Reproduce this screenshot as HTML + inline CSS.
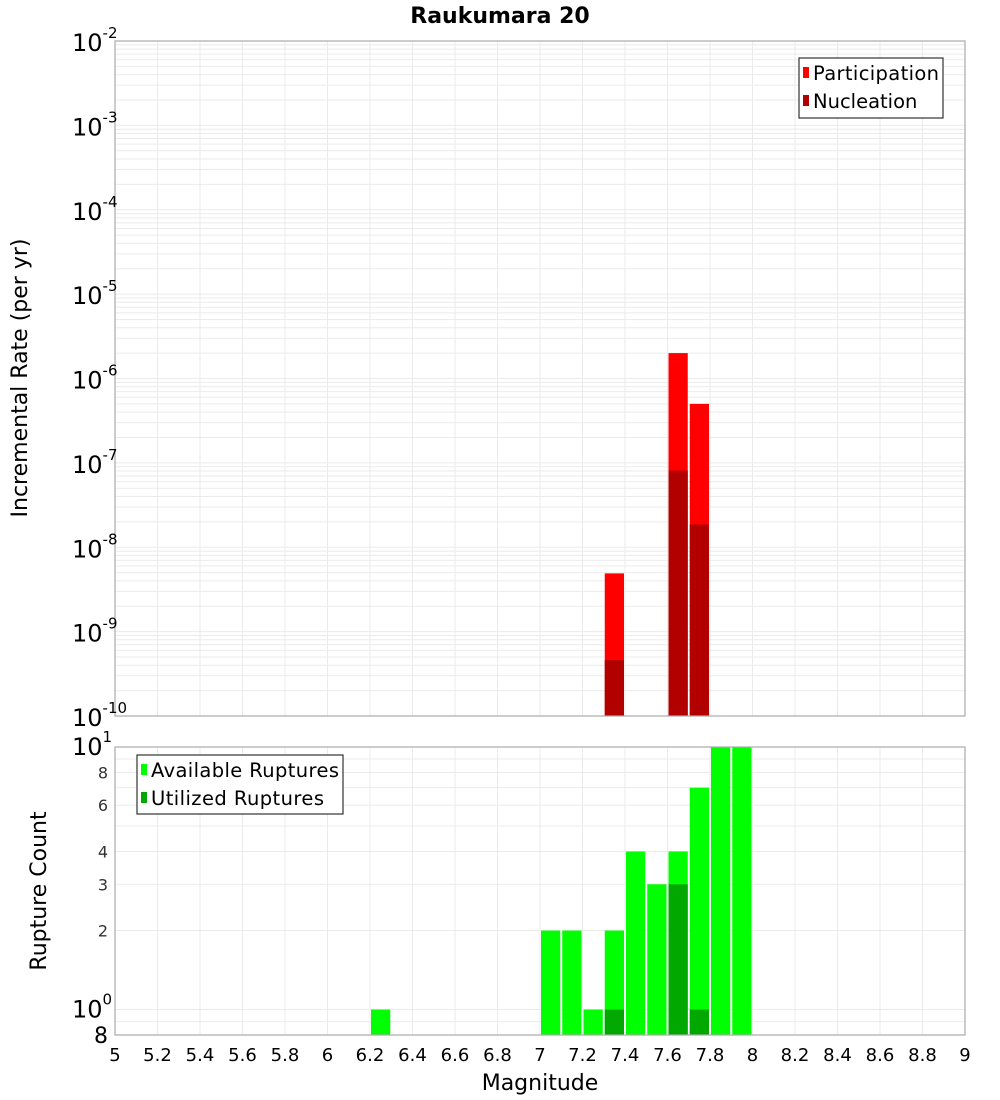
<!DOCTYPE html>
<html><head><meta charset="utf-8"><style>
body{margin:0;background:#fff;}
svg{display:block;font-family:"DejaVu Sans","Liberation Sans",sans-serif;}
</style></head><body>
<svg id="chart" width="1000" height="1100" xmlns="http://www.w3.org/2000/svg">
<text x="500" y="23" text-anchor="middle" font-size="22" font-weight="bold">Raukumara 20</text>
<g id="topPlot"></g>
<g id="botPlot"></g>
<text transform="translate(27,378) rotate(-90)" text-anchor="middle" font-size="22">Incremental Rate (per yr)</text>
<text transform="translate(46,891) rotate(-90)" text-anchor="middle" font-size="22">Rupture Count</text>
<text x="540" y="1090" text-anchor="middle" font-size="22">Magnitude</text>
<g>
<rect x="799" y="58" width="144" height="60" fill="#fff" stroke="#333" stroke-width="1.2"/>
<rect x="803" y="67" width="6" height="11" fill="#ff0000"/>
<text x="813" y="80" font-size="19.5" textLength="126">Participation</text>
<rect x="803" y="95" width="6" height="11" fill="#b20000"/>
<text x="813" y="108" font-size="19.5">Nucleation</text>
</g>
<g>
<rect x="137" y="755" width="206" height="59" fill="#fff" stroke="#333" stroke-width="1.2"/>
<rect x="141" y="764" width="6" height="11" fill="#00ff00"/>
<text x="151" y="777" font-size="19.5" textLength="188">Available Ruptures</text>
<rect x="141" y="792" width="6" height="11" fill="#00a800"/>
<text x="151" y="805" font-size="19.5" textLength="173">Utilized Ruptures</text>
</g>
</svg>
<script>
const magBins=[7.35,7.65,7.75];
const participation=[4.9e-9,2.0e-6,5.0e-7];
const nucleation=[4.6e-10,8.1e-8,1.86e-8];
const countBins=[6.25,7.05,7.15,7.25,7.35,7.45,7.55,7.65,7.75,7.85,7.95];
const available=[1,2,2,1,2,4,3,4,7,10,10];
const utilized=[0,0,0,0,1,0,0,3,1,0,0];
const xTicks=[5,5.2,5.4,5.6,5.8,6,6.2,6.4,6.6,6.8,7,7.2,7.4,7.6,7.8,8,8.2,8.4,8.6,8.8,9];
const rateExps=[-2,-3,-4,-5,-6,-7,-8,-9,-10];
const countTicks=[8,6,4,3,2];

const NS="http://www.w3.org/2000/svg";
const L=115,R=965;
const xs=m=>L+(m-5)/4*(R-L);
const T1=41,B1=716;
const yTop=v=>T1+(-2-Math.log10(v))/8*(B1-T1);
const T2=747,B2=1035;
const yBot=v=>T2+(1-Math.log10(v))/(1-Math.log10(0.8))*(B2-T2);
function el(p,t,a){const e=document.createElementNS(NS,t);for(const k in a)e.setAttribute(k,a[k]);p.appendChild(e);return e;}
const gTop=document.getElementById('topPlot'),gBot=document.getElementById('botPlot');
el(gTop,'rect',{x:L,y:T1,width:R-L,height:B1-T1,fill:'#fff'});
el(gBot,'rect',{x:L,y:T2,width:R-L,height:B2-T2,fill:'#fff'});
for(let e=-10;e<-2;e++)for(let k=1;k<10;k++){const y=yTop(k*Math.pow(10,e));
const g=el(gTop,'line',{x1:L,x2:R,y1:y,y2:y,stroke:'#ebebeb','stroke-width':1});

}
[0.8,0.9,1,2,3,4,5,6,7,8,9].forEach(v=>{const y=yBot(v);
const g=el(gBot,'line',{x1:L,x2:R,y1:y,y2:y,stroke:'#ebebeb','stroke-width':1});

});
xTicks.forEach(m=>{[[gTop,T1,B1],[gBot,T2,B2]].forEach(([p,a,b])=>{
const g=el(p,'line',{x1:xs(m),x2:xs(m),y1:a,y2:b,stroke:'#ebebeb','stroke-width':1});

});
const t=el(gBot,'text',{x:xs(m),y:1061,'text-anchor':'middle','font-size':18});
t.textContent=String(m);

});
const bw=(xs(5.1)-xs(5))-2;
magBins.forEach((m,i)=>{
const b=el(gTop,'rect',{x:xs(m)-bw/2,y:yTop(participation[i]),width:bw,height:B1-yTop(participation[i]),fill:'#ff0000'});


const n=el(gTop,'rect',{x:xs(m)-bw/2,y:yTop(nucleation[i]),width:bw,height:B1-yTop(nucleation[i]),fill:'#b20000'});

});
countBins.forEach((m,i)=>{
const b=el(gBot,'rect',{x:xs(m)-bw/2,y:yBot(available[i]),width:bw,height:B2-yBot(available[i]),fill:'#00ff00'});


if(utilized[i]>0){const u=el(gBot,'rect',{x:xs(m)-bw/2,y:yBot(utilized[i]),width:bw,height:B2-yBot(utilized[i]),fill:'#00a800'});

}});
el(gTop,'rect',{x:L,y:T1,width:R-L,height:B1-T1,fill:'none',stroke:'#aaa','stroke-width':1.2});
el(gBot,'rect',{x:L,y:T2,width:R-L,height:B2-T2,fill:'none',stroke:'#aaa','stroke-width':1.2});
rateExps.forEach(e=>{const y=yTop(Math.pow(10,e));
const t=el(gTop,'text',{x:72,y:y+10,'font-size':24});


t.textContent='10';
const s=el(t,'tspan',{dy:-13,'font-size':15});s.textContent=String(e);});
[[10,'1'],[1,'0']].forEach(([v,e])=>{const y=yBot(v);
const t=el(gBot,'text',{x:72,y:y+8,'font-size':24});


t.textContent='10';
const s=el(t,'tspan',{dy:-13,'font-size':15});s.textContent=e;});
countTicks.forEach(v=>{const t=el(gBot,'text',{x:108,y:yBot(v)+6,'text-anchor':'end','font-size':16,fill:'#333'});
t.textContent=String(v);

});
const t8=el(gBot,'text',{x:108,y:B2+8,'text-anchor':'end','font-size':22});
t8.textContent='8';


</script>
</body></html>
